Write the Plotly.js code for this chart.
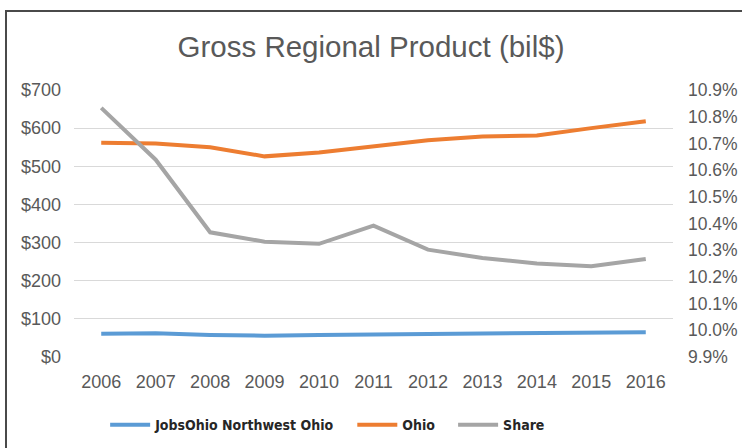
<!DOCTYPE html>
<html>
<head>
<meta charset="utf-8">
<script src="https://cdn.plot.ly/plotly-3.0.1.min.js"></script>
<style>
  html, body { margin: 0; padding: 0; background: #fff; }
  #wrap { position: relative; width: 742px; height: 448px; }
  #chart { width: 742px; height: 448px; }
  #topline { position: absolute; left: 5px; top: 10px; width: 737px; height: 2px; background: #4a4a4a; }
  #leftline { position: absolute; left: 5px; top: 10px; width: 2px; height: 438px; background: #4a4a4a; }
</style>
</head>
<body>
<div id="wrap">
  <div id="chart"></div>
  <div id="topline"></div>
  <div id="leftline"></div>
</div>
<script>
const years = ['2006','2007','2008','2009','2010','2011','2012','2013','2014','2015','2016'];
const jobsOhioNW = [61, 62, 58, 56, 58, 59, 59, 62, 62, 62, 65];
const ohio = [562, 560, 550, 526, 536, 552, 568, 578, 581, 600, 618];
const share = [10.833, 10.639, 10.367, 10.332, 10.324, 10.392, 10.302, 10.271, 10.250, 10.240, 10.267];
const seriesNames = ['JobsOhio Northwest Ohio', 'Ohio', 'Share'];
const leftTicks = [0, 100, 200, 300, 400, 500, 600, 700];
const leftTickText = ['$0', '$100', '$200', '$300', '$400', '$500', '$600', '$700'];
const rightTicks = [9.9, 10.0, 10.1, 10.2, 10.3, 10.4, 10.5, 10.6, 10.7, 10.8, 10.9];
const rightTickText = ['9.9%', '10.0%', '10.1%', '10.2%', '10.3%', '10.4%', '10.5%', '10.6%', '10.7%', '10.8%', '10.9%'];

const pad = '\u00a0\u00a0\u00a0';
const traces = [
  { x: years, y: jobsOhioNW, name: seriesNames[0] + pad, type: 'scatter', mode: 'lines',
    line: { color: '#5b9bd5', width: 4 } },
  { x: years, y: ohio, name: seriesNames[1] + pad, type: 'scatter', mode: 'lines',
    line: { color: '#ed7d31', width: 4 } },
  { x: years, y: share, name: seriesNames[2], type: 'scatter', mode: 'lines', yaxis: 'y2',
    line: { color: '#a5a5a5', width: 4 } }
];

const fam = 'Liberation Sans, Arial, sans-serif';

const layout = {
  width: 742, height: 448,
  margin: { l: 74, r: 69, t: 90, b: 91, autoexpand: false },
  paper_bgcolor: '#ffffff', plot_bgcolor: '#ffffff',
  title: { text: 'Gross Regional Product (bil$)', x: 0.5, xanchor: 'center', y: 0.895, yanchor: 'middle',
    font: { family: fam, size: 29.5, color: '#595959' } },
  showlegend: true,
  legend: { orientation: 'h', x: 0.052, xanchor: 'left', y: -0.255, yanchor: 'middle',
    font: { family: 'DejaVu Sans Condensed, sans-serif', size: 14, color: '#262626', weight: 'bold' },
    itemwidth: 40 },
  xaxis: { type: 'category', tickmode: 'array', tickvals: years, ticktext: years,
    showgrid: false, zeroline: false, showline: false, ticks: '',
    tickfont: { family: fam, size: 18, color: '#595959' },
    range: [-0.5, 10.5], ticklabelstandoff: 12 },
  yaxis: { range: [0, 700], tickmode: 'array', tickvals: leftTicks, ticktext: leftTickText,
    showgrid: true, gridcolor: '#d9d9d9', gridwidth: 1, zeroline: false, showline: false,
    ticks: '', tickfont: { family: fam, size: 18, color: '#595959' }, ticklabelstandoff: 12 },
  yaxis2: { overlaying: 'y', side: 'right', range: [9.9, 10.9], tickmode: 'array',
    tickvals: rightTicks, ticktext: rightTickText, showgrid: false, zeroline: false,
    showline: false, ticks: '', tickfont: { family: fam, size: 17.5, color: '#595959' }, ticklabelstandoff: 14 }
};

Plotly.newPlot('chart', traces, layout, { displayModeBar: false, staticPlot: true });
</script>
</body>
</html>
